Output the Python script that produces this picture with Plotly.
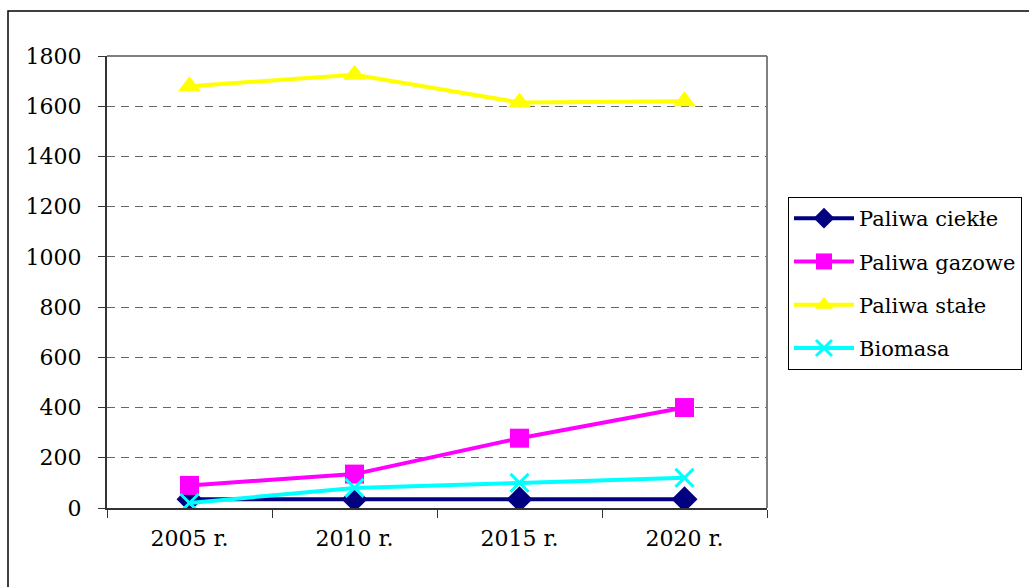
import plotly.graph_objects as go

years = ["2005 r.", "2010 r.", "2015 r.", "2020 r."]
ciekle = [35, 35, 35, 35]
gazowe = [90, 135, 278, 400]
stale = [1680, 1725, 1615, 1620]
biomasa = [20, 80, 100, 120]

FONT = "DejaVu Serif"

fig = go.Figure()
fig.add_trace(go.Scatter(x=years, y=ciekle, name="Paliwa ciekłe", mode="lines+markers",
                         line=dict(color="#000080", width=4),
                         marker=dict(symbol="diamond", size=20, color="#000080"),
                         legendgroup="a"))
fig.add_trace(go.Scatter(x=years, y=gazowe, name="Paliwa gazowe", mode="lines+markers",
                         line=dict(color="#FF00FF", width=4),
                         marker=dict(symbol="square", size=19, color="#FF00FF"),
                         legendgroup="b"))
fig.add_trace(go.Scatter(x=years, y=stale, name="Paliwa stałe", mode="lines+markers",
                         line=dict(color="#FFFF00", width=4),
                         marker=dict(symbol="triangle-up", size=20, color="#FFFF00"),
                         legendgroup="c"))
fig.add_trace(go.Scatter(x=years, y=biomasa, name="Biomasa", mode="lines+markers",
                         line=dict(color="#00FFFF", width=4),
                         marker=dict(symbol="x-thin", size=18, color="#00FFFF",
                                     line=dict(color="#00FFFF", width=3)),
                         legendgroup="d"))

fig.update_layout(
    width=1029, height=587,
    margin=dict(l=107, r=262, t=56, b=79),
    paper_bgcolor="white", plot_bgcolor="white",
    font=dict(family=FONT, size=22, color="black"),
    showlegend=True,
    legend=dict(xref="container", yref="container", x=788/1029, y=1-197/587,
                xanchor="left", yanchor="top",
                bordercolor="black", borderwidth=1, bgcolor="white",
                font=dict(family=FONT, size=21), itemwidth=60,
                tracegroupgap=13, traceorder="grouped"),
    xaxis=dict(type="category", tickson="boundaries", ticks="outside", ticklen=8,
               tickcolor="#333", showline=True, linecolor="#333", linewidth=2,
               showgrid=False, mirror=False, ticklabelstandoff=10,
               tickfont=dict(family=FONT, size=22),
               range=[-0.5, 3.5], fixedrange=True),
    yaxis=dict(range=[0, 1800], dtick=200, ticks="outside", ticklen=7, tickcolor="#333",
               showline=True, linecolor="#333", linewidth=2, zeroline=False,
               showgrid=True, gridcolor="#666", griddash="8px,6px", gridwidth=1,
               tickfont=dict(family=FONT, size=22),
               ticklabelstandoff=12),
    shapes=[
        dict(type="line", xref="paper", yref="paper", x0=0, x1=1, y0=1, y1=1,
             line=dict(color="#808080", width=2)),
        dict(type="line", xref="paper", yref="paper", x0=1, x1=1, y0=0, y1=1,
             line=dict(color="#808080", width=2)),
        dict(type="rect", xref="paper", yref="paper", x0=-0.15, x1=1.42, y0=-0.2, y1=1.0996,
             line=dict(color="black", width=1.5), layer="below"),
    ],
)

fig.write_html("out.html")
